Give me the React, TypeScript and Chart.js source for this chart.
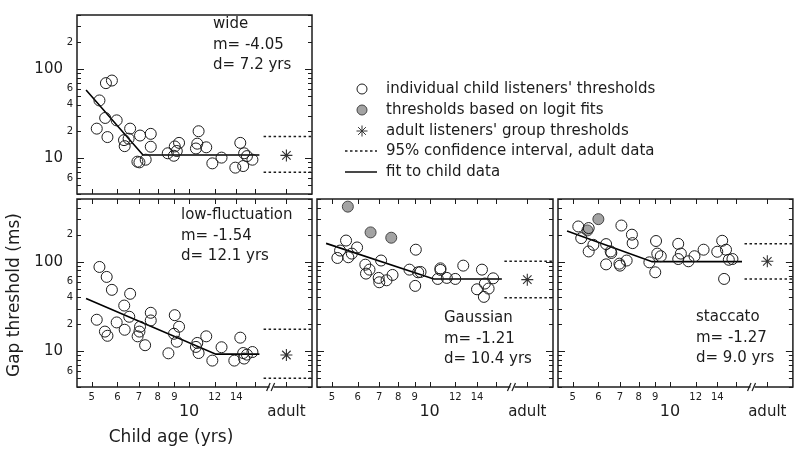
import React, { useEffect, useRef } from 'react';
import { Chart, registerables } from 'chart.js';

Chart.register(...registerables);

const FONT = '"DejaVu Sans", "Lucida Grande", Verdana, sans-serif';
const INK = '#1c1c1c';

// ---------- axes ----------
const ageMin = 4.5;
const ageMax = 24;
const ageTicks = [5, 6, 7, 8, 9, 10, 12, 14, 16];
const ageSmallLabels = [5, 6, 7, 8, 9, 12, 14];
const ageBigLabel = 10;
const adultAge = 20;
const adultLabel = 'adult';
const breakAge = 18;
const ciStartAge = 17;
const gapMin = 4;
const gapMajorTicks = [10, 100];
const gapMinorTicks = [4, 5, 6, 7, 8, 9, 20, 30, 40, 50, 60, 70, 80, 90, 200, 300, 400, 500];
const gapLabelValues = [6, 10, 20, 40, 60, 100, 200];
const gapLabelTexts = ['6', '10', '2', '4', '6', '100', '2'];
const yTitle = 'Gap threshold (ms)';
const xTitle = 'Child age (yrs)';

const legendLabels = [
  "individual child listeners' thresholds",
  'thresholds based on logit fits',
  "adult listeners' group thresholds",
  '95% confidence interval, adult data',
  'fit to child data',
];

// ---------- wide ----------
const wideChild = [
  [5.53, 69.3], [5.77, 74.1], [5.28, 44.4], [5.5, 28.3], [5.18, 21.5], [5.59, 17.3], [5.97, 26.6],
  [6.57, 21.5], [6.29, 16.0], [6.5, 16.6], [6.32, 13.7], [7.05, 18.0], [7.61, 18.8], [7.61, 13.5],
  [6.92, 9.19], [7.02, 9.03], [7.34, 9.67], [8.59, 11.4], [8.97, 10.7], [9.03, 13.6], [9.16, 12.1],
  [9.31, 14.9], [10.7, 20.1], [10.6, 14.6], [10.5, 12.9], [11.3, 13.3], [11.8, 8.8], [12.6, 10.2],
  [13.9, 7.88], [14.4, 14.9], [14.8, 11.4], [15.1, 10.6], [14.7, 8.21], [15.7, 9.67],
];
const wideLogit: number[][] = [];
const wideFit = [[4.8, 58], [7.2, 10.9], [16.5, 10.9]];
const wideAdult = [10.8, 7.0, 17.6]; // group, lower CI, upper CI

// ---------- low-fluctuation ----------
const lowFlucChild = [
  [5.28, 87.3], [5.56, 67.6], [5.77, 48.5], [6.57, 43.8], [6.3, 32.4], [6.53, 24.3], [5.18, 22.5],
  [5.49, 16.6], [5.59, 14.9], [5.97, 21.0], [6.32, 17.4], [7.05, 18.8], [7.02, 16.6], [6.93, 14.7],
  [7.31, 11.7], [7.61, 26.9], [7.61, 22.1], [9.03, 25.3], [9.31, 18.8], [8.98, 15.7], [9.16, 12.8],
  [8.63, 9.5], [10.6, 12.4], [10.5, 11.2], [10.7, 9.57], [11.3, 14.7], [11.8, 7.88], [12.6, 11.1],
  [13.8, 7.88], [14.4, 14.2], [14.7, 9.57], [14.8, 8.3], [15.1, 9.19], [15.7, 9.82],
];
const lowFlucLogit: number[][] = [];
const lowFlucFit = [[4.8, 38.8], [12.1, 9.3], [16.5, 9.3]];
const lowFlucAdult = [9.1, 5.0, 17.6];

// ---------- Gaussian ----------
const gaussChild = [
  [5.53, 172], [5.2, 110], [5.3, 133], [5.62, 112], [5.76, 123], [5.98, 144], [6.34, 92.6],
  [6.53, 81.5], [6.37, 73.6], [7.09, 103], [6.97, 65.9], [7.0, 58.9], [7.37, 62.0], [7.69, 71.1],
  [8.67, 81.5], [9.07, 136], [9.22, 76.1], [9.38, 76.8], [9.03, 53.7], [10.8, 84.2], [10.8, 80.9],
  [10.6, 64.2], [11.3, 65.9], [12.0, 64.2], [12.7, 90.3], [14.5, 81.5], [14.8, 57.0], [14.0, 49.2],
  [15.2, 50.1], [14.7, 40.5], [15.7, 65.2],
];
const gaussLogit = [[5.6, 411], [6.58, 212], [7.62, 185]];
const gaussFit = [[4.8, 160], [10.3, 64], [16.7, 64]];
const gaussAdult = [63, 39.6, 101];

// ---------- staccato ----------
const staccChild = [
  [5.2, 247], [5.31, 183], [5.6, 237], [5.79, 154], [5.6, 130], [6.34, 157], [6.55, 130],
  [6.58, 125], [6.34, 93.3], [6.97, 95.0], [7.0, 90.3], [7.34, 103], [7.07, 253], [7.62, 200],
  [7.66, 161], [8.63, 98.3], [9.0, 76.1], [9.05, 170], [9.13, 123], [9.36, 115], [10.6, 158],
  [10.8, 123], [10.6, 107], [11.4, 101], [11.9, 115], [12.7, 136], [14.0, 129], [14.5, 171],
  [14.9, 136], [15.2, 105], [15.6, 107], [14.7, 64.2],
];
const staccLogit = [[6.0, 298], [5.55, 223]];
const staccFit = [[4.8, 220], [8.8, 100], [16.7, 100]];
const staccAdult = [101, 64, 158];

type Panel = {
  name: string; slope: string; bp: string;
  child: number[][]; logit: number[][]; fit: number[][]; adult: number[];
  gapMax: number;
  area: number[]; textAt: number[];
  yLabels: boolean; xLabels: boolean; topTicks: boolean; showBreak: boolean;
  legend: boolean; titles: boolean;
};

const panels: Panel[] = [
  { name: 'wide', slope: '-4.05', bp: '7.2', child: wideChild, logit: wideLogit, fit: wideFit, adult: wideAdult,
    gapMax: 400, area: [77, 15, 312, 194], textAt: [213, 24],
    yLabels: true, xLabels: false, topTicks: false, showBreak: false, legend: true, titles: false },
  { name: 'low-fluctuation', slope: '-1.54', bp: '12.1', child: lowFlucChild, logit: lowFlucLogit, fit: lowFlucFit, adult: lowFlucAdult,
    gapMax: 500, area: [77, 199, 312, 387], textAt: [181, 215],
    yLabels: true, xLabels: true, topTicks: true, showBreak: true, legend: false, titles: true },
  { name: 'Gaussian', slope: '-1.21', bp: '10.4', child: gaussChild, logit: gaussLogit, fit: gaussFit, adult: gaussAdult,
    gapMax: 500, area: [317, 199, 553, 387], textAt: [444, 318],
    yLabels: false, xLabels: true, topTicks: true, showBreak: true, legend: false, titles: false },
  { name: 'staccato', slope: '-1.27', bp: '9.0', child: staccChild, logit: staccLogit, fit: staccFit, adult: staccAdult,
    gapMax: 500, area: [558, 199, 793, 387], textAt: [696, 317],
    yLabels: false, xLabels: true, topTicks: true, showBreak: true, legend: false, titles: false },
];

function line(ctx: CanvasRenderingContext2D, x1: number, y1: number, x2: number, y2: number) {
  ctx.beginPath();
  ctx.moveTo(x1, y1);
  ctx.lineTo(x2, y2);
  ctx.stroke();
}

function drawStar(ctx: CanvasRenderingContext2D, cx: number, cy: number, r: number) {
  for (let k = 0; k < 4; k++) {
    const a = (k * Math.PI) / 4;
    line(ctx, cx - r * Math.cos(a), cy - r * Math.sin(a), cx + r * Math.cos(a), cy + r * Math.sin(a));
  }
}

function makeDecor(p: Panel) {
  return {
    id: 'panelDecor',
    afterDraw(chart: any) {
      const { ctx, chartArea: a } = chart;
      const xs = chart.scales.x;
      const ys = chart.scales.y;
      ctx.save();
      ctx.strokeStyle = INK;
      ctx.lineWidth = 1;
      // y ticks (inward, both sides)
      const yTick = (v: number, len: number) => {
        if (v < ys.min || v > ys.max) return;
        const py = Math.round(ys.getPixelForValue(v)) + 0.5;
        line(ctx, a.left, py, a.left + len, py);
        line(ctx, a.right, py, a.right - len, py);
      };
      gapMinorTicks.forEach((v) => yTick(v, 4));
      gapMajorTicks.forEach((v) => yTick(v, 7));
      // x ticks
      [...ageTicks, adultAge].forEach((v) => {
        const px = Math.round(xs.getPixelForValue(v)) + 0.5;
        line(ctx, px, a.bottom, px, a.bottom - 5);
        if (p.topTicks) line(ctx, px, a.top, px, a.top + 5);
      });
      // frame
      ctx.lineWidth = 1.5;
      ctx.strokeRect(a.left, a.top, a.right - a.left, a.bottom - a.top);
      // axis break
      if (p.showBreak) {
        const bx = xs.getPixelForValue(breakAge);
        ctx.fillStyle = '#fff';
        ctx.fillRect(bx - 2, a.bottom - 1.5, 4, 3);
        ctx.lineWidth = 1.2;
        line(ctx, bx - 5, a.bottom + 4, bx - 1.5, a.bottom - 4);
        line(ctx, bx - 0.5, a.bottom + 4, bx + 3, a.bottom - 4);
      }
      ctx.fillStyle = INK;
      ctx.textBaseline = 'middle';
      // y labels
      if (p.yLabels) {
        ctx.textAlign = 'right';
        gapLabelValues.forEach((v, i) => {
          if (v < ys.min || v > ys.max) return;
          const py = ys.getPixelForValue(v);
          const big = gapMajorTicks.includes(v);
          ctx.font = `${big ? 15 : 10}px ${FONT}`;
          ctx.fillText(gapLabelTexts[i], big ? a.left - 14 : a.left - 4, py);
        });
      }
      // x labels
      if (p.xLabels) {
        ctx.textAlign = 'center';
        ctx.font = `10px ${FONT}`;
        ageSmallLabels.forEach((v) => ctx.fillText(String(v), xs.getPixelForValue(v), a.bottom + 10));
        ctx.font = `16px ${FONT}`;
        ctx.fillText(String(ageBigLabel), xs.getPixelForValue(ageBigLabel), a.bottom + 25);
        ctx.font = `15px ${FONT}`;
        ctx.fillText(adultLabel, xs.getPixelForValue(adultAge), a.bottom + 25);
      }
      // annotation
      ctx.textAlign = 'left';
      ctx.font = `15px ${FONT}`;
      [p.name, `m= ${p.slope}`, `d= ${p.bp} yrs`].forEach((t, i) =>
        ctx.fillText(t, p.textAt[0], p.textAt[1] + i * 20.7));
      // axis titles
      if (p.titles) {
        ctx.font = `17px ${FONT}`;
        ctx.textAlign = 'center';
        ctx.fillText(xTitle, 171, 438);
        ctx.save();
        ctx.translate(15, 295);
        ctx.rotate(-Math.PI / 2);
        ctx.fillText(yTitle, 0, 0);
        ctx.restore();
      }
      // legend
      if (p.legend) {
        const sx = 362;
        const tx = 386;
        const ly = [89, 110, 131, 151, 172];
        ctx.font = `15px ${FONT}`;
        ctx.textAlign = 'left';
        legendLabels.forEach((t, i) => ctx.fillText(t, tx, ly[i]));
        ctx.lineWidth = 1;
        ctx.beginPath();
        ctx.arc(sx, ly[0], 5, 0, Math.PI * 2);
        ctx.stroke();
        ctx.beginPath();
        ctx.arc(sx, ly[1], 5, 0, Math.PI * 2);
        ctx.fillStyle = '#a3a3a3';
        ctx.fill();
        ctx.strokeStyle = '#444';
        ctx.stroke();
        ctx.strokeStyle = '#333';
        drawStar(ctx, sx, ly[2], 5.5);
        ctx.strokeStyle = INK;
        ctx.lineWidth = 1.5;
        ctx.setLineDash([2.5, 2.5]);
        line(ctx, 345, ly[3], 377, ly[3]);
        ctx.setLineDash([]);
        ctx.lineWidth = 1.6;
        line(ctx, 345, ly[4], 377, ly[4]);
      }
      ctx.restore();
    },
  };
}

function makeConfig(p: Panel): any {
  const pts = (arr: number[][]) => arr.map(([x, y]) => ({ x, y }));
  return {
    type: 'scatter',
    data: {
      datasets: [
        { label: legendLabels[0], data: pts(p.child), pointStyle: 'circle', pointRadius: 5.5, borderWidth: 1,
          borderColor: INK, backgroundColor: 'rgba(0,0,0,0)' },
        { label: legendLabels[1], data: pts(p.logit), pointStyle: 'circle', pointRadius: 5.5, borderWidth: 1,
          borderColor: '#444', backgroundColor: '#a3a3a3' },
        { label: legendLabels[4], data: pts(p.fit), showLine: true, pointRadius: 0, borderColor: '#000',
          borderWidth: 1.6, fill: false },
        { label: 'CI upper', data: [{ x: ciStartAge, y: p.adult[2] }, { x: ageMax, y: p.adult[2] }], showLine: true,
          pointRadius: 0, borderColor: INK, borderWidth: 1.5, borderDash: [2.5, 2.5], fill: false },
        { label: 'CI lower', data: [{ x: ciStartAge, y: p.adult[1] }, { x: ageMax, y: p.adult[1] }], showLine: true,
          pointRadius: 0, borderColor: INK, borderWidth: 1.5, borderDash: [2.5, 2.5], fill: false },
        { label: legendLabels[2], data: [{ x: adultAge, y: p.adult[0] }], pointStyle: 'star', pointRadius: 6,
          borderColor: '#333', borderWidth: 1.1, backgroundColor: 'rgba(0,0,0,0)' },
      ],
    },
    options: {
      responsive: false,
      animation: false,
      events: [],
      layout: { padding: { left: p.area[0], top: p.area[1], right: 800 - p.area[2], bottom: 454 - p.area[3] } },
      plugins: { legend: { display: false }, tooltip: { enabled: false } },
      scales: {
        x: { type: 'logarithmic', min: ageMin, max: ageMax, display: false, bounds: 'data' },
        y: { type: 'logarithmic', min: gapMin, max: p.gapMax, display: false, bounds: 'data' },
      },
    },
    plugins: [makeDecor(p)],
  };
}

export default function App() {
  const refs = useRef<(HTMLCanvasElement | null)[]>([]);
  useEffect(() => {
    const charts = panels.map((p, i) => new Chart(refs.current[i] as HTMLCanvasElement, makeConfig(p)));
    return () => charts.forEach((c) => c.destroy());
  }, []);
  return (
    <div style={{ position: 'fixed', left: 0, top: 0, width: 800, height: 454, background: '#fff' }}>
      {panels.map((p, i) => (
        <canvas
          key={p.name}
          ref={(el) => { refs.current[i] = el; }}
          width={800}
          height={454}
          style={{ position: 'absolute', left: 0, top: 0, width: 800, height: 454 }}
        />
      ))}
    </div>
  );
}
